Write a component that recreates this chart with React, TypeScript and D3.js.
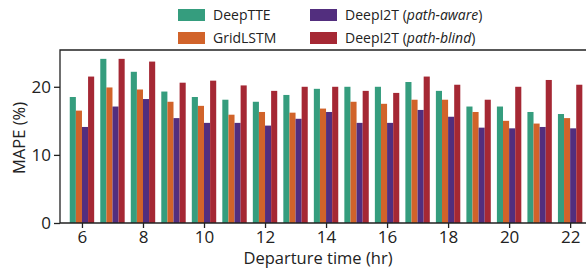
import React, { useEffect, useRef } from "react";
import * as d3 from "d3";

const hours = [6, 7, 8, 9, 10, 11, 12, 13, 14, 15, 16, 17, 18, 19, 20, 21, 22];
const seriesNames = ["DeepTTE", "GridLSTM", "DeepI2T (path-aware)", "DeepI2T (path-blind)"];
const deepTTE = [18.5, 24.1, 22.2, 19.3, 18.5, 18.1, 17.8, 18.8, 19.7, 20.0, 20.0, 20.7, 19.4, 17.1, 17.1, 16.3, 16.0];
const gridLSTM = [16.5, 19.9, 19.6, 17.8, 17.2, 15.9, 16.3, 16.2, 16.8, 17.8, 17.5, 18.1, 18.1, 16.3, 15.0, 14.6, 15.4];
const pathAware = [14.1, 17.1, 18.2, 15.4, 14.7, 14.7, 14.3, 15.3, 16.3, 14.7, 14.7, 16.6, 15.6, 14.0, 13.9, 14.1, 13.9];
const pathBlind = [21.5, 24.1, 23.7, 20.6, 20.9, 20.2, 19.4, 20.0, 20.0, 19.4, 19.1, 21.5, 20.3, 18.1, 20.0, 21.0, 20.3];
const colors = ["#359d7e", "#d1632a", "#522e7e", "#a52834"];
const yTicks = [0, 10, 20];
const xTicks = [6, 8, 10, 12, 14, 16, 18, 20, 22];

const W = 586;
const H = 269;
const font = "'Open Sans', sans-serif";

export default function App() {
  const ref = useRef<SVGSVGElement | null>(null);

  useEffect(() => {
    document.body.style.margin = "0";
    const svg = d3.select(ref.current);
    svg.selectAll("*").remove();

    const left = 60, top = 50, bottom = 223, right = 600;
    const x = d3.scaleLinear().domain([5.28, 22.52 + (right - 586) / 30.5]).range([left, right]);
    const y = d3.scaleLinear().domain([0, 25.4]).range([bottom, top]);
    const bw = x(0.2) - x(0);
    const all = [deepTTE, gridLSTM, pathAware, pathBlind];

    all.forEach((vals, si) => {
      svg
        .append("g")
        .selectAll("rect")
        .data(vals)
        .enter()
        .append("rect")
        .attr("x", (_d, i) => x(hours[i] - 0.4 + si * 0.2))
        .attr("width", bw)
        .attr("y", (d) => y(d))
        .attr("height", (d) => y(0) - y(d))
        .attr("fill", colors[si]);
    });

    // frame (top, left, bottom)
    svg
      .append("path")
      .attr("d", `M${right},${top}H${left}V${bottom}H${right}`)
      .attr("fill", "none")
      .attr("stroke", "#222")
      .attr("stroke-width", 1.3);

    const yAxis = svg.append("g").attr("transform", `translate(${left},0)`).call(
      d3.axisLeft(y).tickValues(yTicks).tickSize(6).tickPadding(3).tickFormat(d3.format("d"))
    );
    const xAxis = svg.append("g").attr("transform", `translate(0,${bottom})`).call(
      d3.axisBottom(x).tickValues(xTicks).tickSize(5).tickPadding(3).tickFormat(d3.format("d"))
    );
    [yAxis, xAxis].forEach((a) => {
      a.select(".domain").remove();
      a.selectAll("line").attr("stroke", "#222").attr("stroke-width", 1.3);
      a.selectAll("text").attr("font-family", font).attr("font-size", 17).attr("fill", "#222");
    });

    svg
      .append("text")
      .attr("x", 318)
      .attr("y", 264)
      .attr("text-anchor", "middle")
      .attr("font-family", font)
      .attr("font-size", 16.5)
      .attr("fill", "#222")
      .text("Departure time (hr)");

    svg
      .append("text")
      .attr("transform", `translate(25,138) rotate(-90)`)
      .attr("text-anchor", "middle")
      .attr("font-family", font)
      .attr("font-size", 16.5)
      .attr("fill", "#222")
      .text("MAPE (%)");

    // legend
    const legendPos = [
      [178, 9],
      [178, 32],
      [310, 9],
      [310, 32],
    ];
    seriesNames.forEach((name, i) => {
      const [lx, ly] = legendPos[i];
      const g = svg.append("g").attr("transform", `translate(${lx},${ly})`);
      g.append("rect").attr("width", 27).attr("height", 12).attr("fill", colors[i]);
      const t = g
        .append("text")
        .attr("x", 35)
        .attr("y", 10.5)
        .attr("font-family", font)
        .attr("font-size", 14)
        .attr("fill", "#222");
      const m = name.match(/^(.*)\((.*)\)$/);
      if (m) {
        t.append("tspan").text(m[1] + "(");
        t.append("tspan").attr("font-style", "italic").text(m[2]);
        t.append("tspan").text(")");
      } else {
        t.text(name);
      }
    });
  }, []);

  return <svg ref={ref} width={W} height={H} style={{ display: "block" }} />;
}
